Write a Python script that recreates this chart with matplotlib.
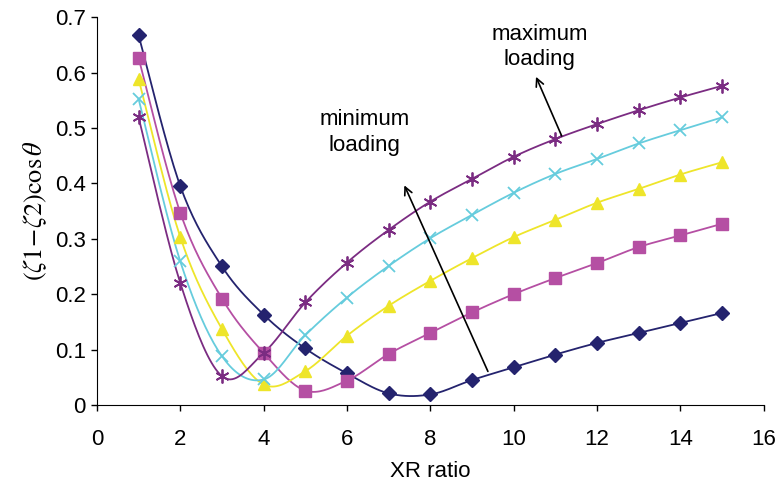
import numpy as np
import matplotlib
matplotlib.use("Agg")
import matplotlib.pyplot as plt

plt.rcParams['font.family'] = ['Liberation Sans', 'DejaVu Sans']
plt.rcParams['mathtext.fontset'] = 'stix'

# data
xr = [1, 2, 3, 4, 5, 6, 7, 8, 9, 10, 11, 12, 13, 14, 15]
s_navy = [0.667, 0.395, 0.250, 0.163, 0.102, 0.057, 0.021, 0.019, 0.045, 0.068, 0.091, 0.112, 0.130, 0.148, 0.166]
s_magenta = [0.626, 0.347, 0.192, 0.094, 0.026, 0.044, 0.092, 0.130, 0.167, 0.200, 0.229, 0.256, 0.285, 0.306, 0.327]
s_yellow = [0.588, 0.303, 0.137, 0.037, 0.061, 0.125, 0.179, 0.224, 0.265, 0.303, 0.334, 0.365, 0.390, 0.416, 0.438]
s_cyan = [0.552, 0.259, 0.088, 0.046, 0.126, 0.194, 0.251, 0.301, 0.343, 0.383, 0.417, 0.444, 0.472, 0.496, 0.519]
s_purple = [0.519, 0.220, 0.052, 0.094, 0.185, 0.257, 0.316, 0.367, 0.408, 0.448, 0.480, 0.507, 0.532, 0.555, 0.576]


# Excel-style smoothing (Catmull-Rom through the points)
def smooth(x, y, n=20):
    x = np.asarray(x, float)
    y = np.asarray(y, float)
    px = np.concatenate([[x[0]], x, [x[-1]]])
    py = np.concatenate([[y[0]], y, [y[-1]]])
    xs, ys = [], []
    t = np.linspace(0, 1, n, endpoint=False)
    for i in range(1, len(px) - 2):
        p0 = np.array([px[i], py[i]])
        p3 = np.array([px[i + 1], py[i + 1]])
        p1 = p0 + (np.array([px[i + 1], py[i + 1]]) - np.array([px[i - 1], py[i - 1]])) / 6
        p2 = p3 - (np.array([px[i + 2], py[i + 2]]) - np.array([px[i], py[i]])) / 6
        b = ((1 - t) ** 3)[:, None] * p0 + (3 * (1 - t) ** 2 * t)[:, None] * p1 \
            + (3 * (1 - t) * t ** 2)[:, None] * p2 + (t ** 3)[:, None] * p3
        xs.extend(b[:, 0])
        ys.extend(b[:, 1])
    xs.append(x[-1])
    ys.append(y[-1])
    return xs, ys


fig = plt.figure(figsize=(7.77, 4.86), dpi=100)
ax = fig.add_axes([0.1248, 0.1667, 0.858, 0.798])

series = [
    (s_navy, '#24236E', 'D', 7, None),
    (s_magenta, '#B54FA3', 's', 8, None),
    (s_yellow, '#EEE52A', '^', 9, None),
    (s_cyan, '#66CCDD', 'x', 9, 1.3),
    (s_purple, '#7B2C82', (6, 2, 0), 10, 1.3),
]
for vals, col, mk, ms, mew in series:
    sx, sy = smooth(xr, vals)
    ax.plot(sx, sy, color=col, lw=1.3, zorder=2)
    kw = dict(color=col, marker=mk, ms=ms, ls='none', zorder=3)
    if mew:
        kw['mew'] = mew
    else:
        kw['mec'] = col
    ax.plot(xr, vals, **kw)

ax.set_xlim(0, 16)
ax.set_ylim(0, 0.7)
ax.set_xticks(range(0, 17, 2))
ax.set_yticks(np.arange(0, 0.71, 0.1))
ax.set_yticklabels(['0', '0.1', '0.2', '0.3', '0.4', '0.5', '0.6', '0.7'])
ax.spines['top'].set_visible(False)
ax.spines['right'].set_visible(False)
ax.tick_params(labelsize=16, length=4, width=1, direction='out')
ax.tick_params(axis='x', pad=13)
ax.tick_params(axis='y', pad=4)
ax.set_xlabel('XR ratio', fontsize=16, labelpad=8)
ax.set_ylabel(r'$(\zeta1\!-\!\zeta2)\mathrm{cos}\,\theta$', fontsize=19, labelpad=4)

ax.annotate('', xy=(10.51, 0.597), xytext=(11.18, 0.481),
            arrowprops=dict(arrowstyle='->', color='black', lw=1.2, mutation_scale=14))
ax.text(10.63, 0.646, 'maximum\nloading', ha='center', va='center', fontsize=16, linespacing=1.3)
ax.annotate('', xy=(7.35, 0.401), xytext=(9.41, 0.056),
            arrowprops=dict(arrowstyle='->', color='black', lw=1.2, mutation_scale=14))
ax.text(6.43, 0.4925, 'minimum\nloading', ha='center', va='center', fontsize=16, linespacing=1.3)

fig.savefig('out.png', dpi=100)
